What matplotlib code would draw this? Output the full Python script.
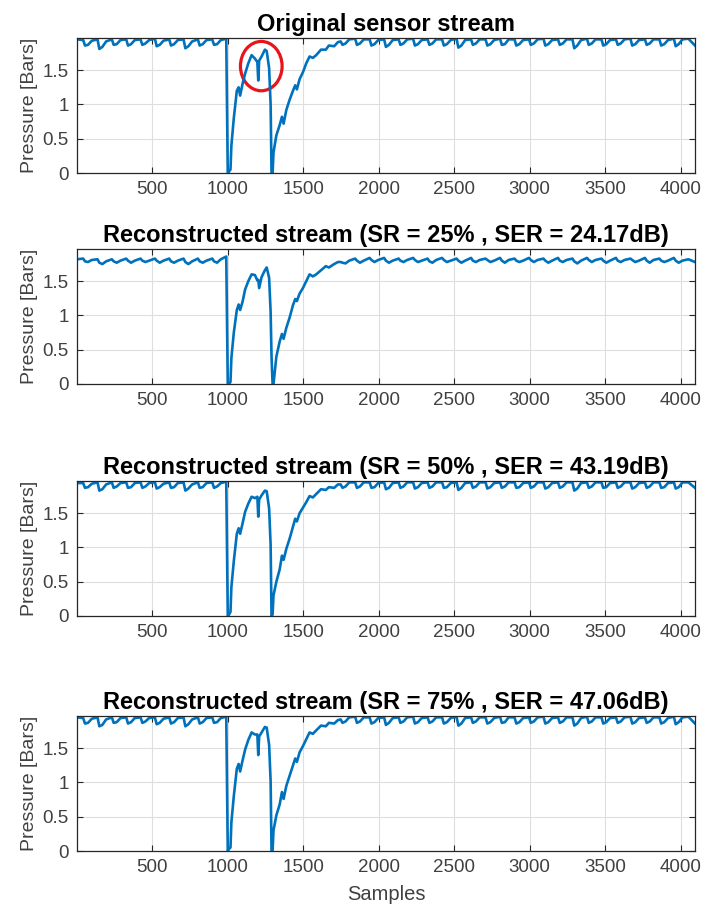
import matplotlib
matplotlib.use('Agg')
from matplotlib import pyplot as plt
from matplotlib.patches import Ellipse

plt.rcParams['font.family'] = ['Liberation Sans', 'DejaVu Sans']

# ---- sample positions (shared by all four streams) ----
# steady part before the pressure drop
pre_x = [1, 42, 54, 74, 99, 137, 149, 169, 194, 232, 244, 264, 289, 327, 339,
         359, 384, 422, 434, 454, 479, 517, 529, 549, 574, 612, 624, 644, 669,
         707, 719, 739, 764, 802, 814, 834, 859, 897, 909, 929, 954, 990]
# the two drops and the recovery
trans_x = [1000, 1008, 1018, 1024, 1040, 1060, 1072, 1082, 1098, 1115, 1136,
           1158, 1180, 1196, 1202, 1208, 1224, 1246, 1258, 1274, 1284, 1290,
           1297, 1303, 1322, 1344, 1359, 1370, 1388, 1410, 1432, 1447, 1458,
           1476, 1498, 1520, 1542, 1564, 1586, 1618, 1650, 1670, 1705, 1730]
# steady part after recovery
post_x = [1748, 1760, 1780, 1805, 1844, 1856, 1876, 1901, 1940, 1952, 1972, 1997,
          2036, 2048, 2068, 2093, 2132, 2144, 2164, 2189, 2228, 2240, 2260, 2285,
          2324, 2336, 2356, 2381, 2420, 2432, 2452, 2477, 2516, 2528, 2548, 2573,
          2612, 2624, 2644, 2669, 2708, 2720, 2740, 2765, 2804, 2816, 2836, 2861,
          2900, 2912, 2932, 2957, 2996, 3008, 3028, 3053, 3092, 3104, 3124, 3149,
          3188, 3200, 3220, 3245, 3284, 3296, 3316, 3341, 3380, 3392, 3412, 3437,
          3476, 3488, 3508, 3533, 3572, 3584, 3604, 3629, 3668, 3680, 3700, 3725,
          3764, 3776, 3796, 3821, 3860, 3872, 3892, 3917, 3956, 3968, 3988, 4013,
          4052, 4096]

# ---- pressure values [Bars] ----
orig_pre = [1.95, 1.94, 1.86, 1.87, 1.93, 1.95, 1.81, 1.84, 1.92, 1.95, 1.87,
            1.88, 1.94, 1.95, 1.86, 1.88, 1.94, 1.95, 1.87, 1.89, 1.94, 1.96,
            1.85, 1.87, 1.93, 1.95, 1.86, 1.88, 1.94, 1.95, 1.82, 1.85, 1.92,
            1.95, 1.86, 1.88, 1.94, 1.95, 1.87, 1.88, 1.94, 1.96]
orig_trans = [0.00, 0.02, 0.05, 0.40, 0.80, 1.20, 1.25, 1.13, 1.30, 1.45, 1.60,
              1.72, 1.67, 1.62, 1.35, 1.64, 1.70, 1.80, 1.78, 1.53, 1.00, 0.00,
              0.00, 0.30, 0.55, 0.70, 0.82, 0.72, 0.92, 1.07, 1.20, 1.28, 1.22,
              1.37, 1.47, 1.60, 1.70, 1.68, 1.72, 1.80, 1.80, 1.86, 1.85, 1.91]
orig_post = [1.92, 1.87, 1.89, 1.95, 1.96, 1.87, 1.89, 1.95, 1.95, 1.86, 1.88, 1.94,
             1.95, 1.84, 1.87, 1.94, 1.95, 1.87, 1.89, 1.95, 1.96, 1.86, 1.88, 1.94,
             1.95, 1.87, 1.89, 1.95, 1.95, 1.86, 1.88, 1.94, 1.96, 1.83, 1.86, 1.94,
             1.95, 1.87, 1.89, 1.95, 1.95, 1.86, 1.88, 1.94, 1.96, 1.87, 1.88, 1.95,
             1.95, 1.86, 1.88, 1.94, 1.95, 1.87, 1.89, 1.95, 1.96, 1.86, 1.88, 1.94,
             1.95, 1.87, 1.89, 1.95, 1.95, 1.82, 1.86, 1.94, 1.96, 1.87, 1.89, 1.95,
             1.95, 1.86, 1.88, 1.94, 1.95, 1.87, 1.89, 1.95, 1.96, 1.86, 1.88, 1.94,
             1.95, 1.87, 1.89, 1.95, 1.95, 1.86, 1.88, 1.94, 1.96, 1.85, 1.88, 1.95,
             1.96, 1.86]

sr25_pre = [1.82, 1.83, 1.79, 1.78, 1.81, 1.82, 1.77, 1.75, 1.79, 1.82, 1.79,
            1.77, 1.80, 1.83, 1.80, 1.77, 1.80, 1.83, 1.80, 1.78, 1.80, 1.83,
            1.80, 1.77, 1.80, 1.83, 1.79, 1.77, 1.80, 1.83, 1.78, 1.75, 1.79,
            1.83, 1.79, 1.77, 1.80, 1.83, 1.79, 1.77, 1.82, 1.86]
sr25_trans = [0.00, 0.00, 0.03, 0.38, 0.75, 1.08, 1.16, 1.08, 1.20, 1.38, 1.50,
              1.60, 1.59, 1.51, 1.52, 1.40, 1.56, 1.66, 1.70, 1.55, 1.05, 0.40,
              0.00, 0.00, 0.40, 0.62, 0.73, 0.66, 0.82, 0.97, 1.15, 1.24, 1.21,
              1.32, 1.40, 1.50, 1.60, 1.57, 1.60, 1.66, 1.72, 1.70, 1.75, 1.78]
sr25_post = [1.78, 1.77, 1.76, 1.80, 1.83, 1.80, 1.77, 1.80, 1.84, 1.81, 1.78, 1.81,
             1.84, 1.80, 1.77, 1.80, 1.83, 1.80, 1.78, 1.81, 1.84, 1.81, 1.78, 1.80,
             1.83, 1.79, 1.77, 1.81, 1.84, 1.81, 1.78, 1.80, 1.83, 1.80, 1.77, 1.80,
             1.84, 1.80, 1.78, 1.81, 1.83, 1.81, 1.78, 1.80, 1.84, 1.80, 1.77, 1.81,
             1.83, 1.80, 1.78, 1.80, 1.84, 1.81, 1.78, 1.81, 1.83, 1.80, 1.77, 1.80,
             1.84, 1.80, 1.78, 1.81, 1.83, 1.79, 1.76, 1.80, 1.84, 1.81, 1.78, 1.81,
             1.83, 1.80, 1.77, 1.80, 1.84, 1.80, 1.78, 1.81, 1.83, 1.81, 1.78, 1.80,
             1.84, 1.80, 1.77, 1.81, 1.83, 1.80, 1.78, 1.80, 1.84, 1.80, 1.77, 1.80,
             1.82, 1.78]

sr50_pre = [1.94, 1.94, 1.87, 1.88, 1.93, 1.95, 1.83, 1.85, 1.92, 1.95, 1.87,
            1.89, 1.94, 1.95, 1.87, 1.88, 1.94, 1.95, 1.87, 1.89, 1.94, 1.95,
            1.86, 1.88, 1.93, 1.95, 1.87, 1.88, 1.94, 1.95, 1.83, 1.86, 1.92,
            1.95, 1.87, 1.88, 1.94, 1.95, 1.87, 1.89, 1.94, 1.96]
sr50_trans = [0.00, 0.02, 0.06, 0.42, 0.80, 1.20, 1.28, 1.20, 1.35, 1.52, 1.64,
              1.74, 1.72, 1.74, 1.45, 1.70, 1.76, 1.83, 1.82, 1.57, 1.04, 0.00,
              0.02, 0.30, 0.50, 0.68, 0.88, 0.82, 0.98, 1.13, 1.30, 1.42, 1.38,
              1.50, 1.58, 1.66, 1.75, 1.73, 1.78, 1.85, 1.84, 1.88, 1.87, 1.92]
sr50_post = [1.92, 1.87, 1.89, 1.95, 1.95, 1.87, 1.89, 1.95, 1.95, 1.87, 1.88, 1.94,
             1.95, 1.85, 1.87, 1.94, 1.95, 1.87, 1.89, 1.95, 1.95, 1.86, 1.88, 1.94,
             1.95, 1.87, 1.89, 1.95, 1.95, 1.87, 1.88, 1.94, 1.95, 1.84, 1.87, 1.94,
             1.95, 1.87, 1.89, 1.95, 1.95, 1.86, 1.88, 1.94, 1.95, 1.87, 1.89, 1.95,
             1.95, 1.87, 1.88, 1.94, 1.95, 1.87, 1.89, 1.95, 1.95, 1.86, 1.88, 1.94,
             1.95, 1.87, 1.89, 1.95, 1.95, 1.83, 1.86, 1.94, 1.95, 1.87, 1.89, 1.95,
             1.95, 1.87, 1.88, 1.94, 1.95, 1.87, 1.89, 1.95, 1.95, 1.86, 1.88, 1.94,
             1.95, 1.87, 1.89, 1.95, 1.95, 1.87, 1.88, 1.94, 1.95, 1.86, 1.88, 1.95,
             1.95, 1.87]

sr75_pre = [1.95, 1.94, 1.86, 1.87, 1.93, 1.95, 1.82, 1.84, 1.92, 1.95, 1.87,
            1.88, 1.94, 1.95, 1.86, 1.88, 1.94, 1.95, 1.87, 1.89, 1.94, 1.95,
            1.85, 1.87, 1.93, 1.95, 1.86, 1.88, 1.94, 1.95, 1.82, 1.85, 1.92,
            1.95, 1.86, 1.88, 1.94, 1.95, 1.87, 1.88, 1.94, 1.96]
sr75_trans = [0.00, 0.03, 0.05, 0.42, 0.80, 1.20, 1.27, 1.16, 1.32, 1.48, 1.62,
              1.73, 1.70, 1.70, 1.40, 1.67, 1.73, 1.81, 1.80, 1.55, 1.02, 0.00,
              0.01, 0.30, 0.52, 0.68, 0.86, 0.76, 0.95, 1.10, 1.25, 1.35, 1.30,
              1.44, 1.53, 1.63, 1.73, 1.71, 1.76, 1.83, 1.82, 1.87, 1.86, 1.91]
sr75_post = [1.92, 1.87, 1.89, 1.95, 1.96, 1.87, 1.89, 1.95, 1.95, 1.86, 1.88, 1.94,
             1.95, 1.84, 1.87, 1.94, 1.95, 1.87, 1.89, 1.95, 1.96, 1.86, 1.88, 1.94,
             1.95, 1.87, 1.89, 1.95, 1.95, 1.86, 1.88, 1.94, 1.96, 1.83, 1.86, 1.94,
             1.95, 1.87, 1.89, 1.95, 1.95, 1.86, 1.88, 1.94, 1.96, 1.87, 1.88, 1.95,
             1.95, 1.86, 1.88, 1.94, 1.95, 1.87, 1.89, 1.95, 1.96, 1.86, 1.88, 1.94,
             1.95, 1.87, 1.89, 1.95, 1.95, 1.83, 1.86, 1.94, 1.96, 1.87, 1.89, 1.95,
             1.95, 1.86, 1.88, 1.94, 1.95, 1.87, 1.89, 1.95, 1.96, 1.86, 1.88, 1.94,
             1.95, 1.87, 1.89, 1.95, 1.95, 1.86, 1.88, 1.94, 1.96, 1.85, 1.88, 1.95,
             1.96, 1.86]

titles = ["Original sensor stream",
          "Reconstructed stream (SR = 25% , SER = 24.17dB)",
          "Reconstructed stream (SR = 50% , SER = 43.19dB)",
          "Reconstructed stream (SR = 75% , SER = 47.06dB)"]

x_ticks = [500, 1000, 1500, 2000, 2500, 3000, 3500, 4000]
y_ticks = [0, 0.5, 1, 1.5]
y_tick_labels = ["0", "0.5", "1", "1.5"]

samples = pre_x + trans_x + post_x
streams = [orig_pre + orig_trans + orig_post,
           sr25_pre + sr25_trans + sr25_post,
           sr50_pre + sr50_trans + sr50_post,
           sr75_pre + sr75_trans + sr75_post]

W, H = 705, 906
fig = plt.figure(figsize=(W / 100, H / 100), dpi=100)

# axes boxes in pixels: (top, bottom)
ax_rows = [(38, 173), (249, 384), (481, 616), (716, 851)]
left_px, right_px = 77, 695

axes = []
for (top, bot), title, vals in zip(ax_rows, titles, streams):
    ax = fig.add_axes([left_px / W, 1 - bot / H, (right_px - left_px) / W, (bot - top) / H])
    ax.plot(samples, vals, color='#0072BD', lw=1.9, solid_joinstyle='round')
    ax.set_xlim(1, 4096)
    ax.set_ylim(0, 1.97)
    ax.set_xticks(x_ticks)
    ax.set_yticks(y_ticks)
    ax.set_yticklabels(y_tick_labels)
    ax.grid(True, color='#dedede', lw=0.8)
    ax.set_axisbelow(True)
    ax.tick_params(direction='in', top=True, right=True, length=4, width=0.8,
                   colors='#262626', labelcolor='#404040', labelsize=13.5, pad=6)
    for sp in ax.spines.values():
        sp.set_color('#262626')
        sp.set_linewidth(0.9)
    ax.set_title(title, fontsize=17, fontweight='bold', color='black', pad=5)
    ax.set_ylabel("Pressure [Bars]", fontsize=14, color='#404040', labelpad=3)
    axes.append(ax)

axes[-1].set_xlabel("Samples", fontsize=14.5, color='#404040', labelpad=6)

# highlight the spike in the original stream
axes[0].add_patch(Ellipse((1222, 1.56), 276, 0.72, fill=False,
                          edgecolor='#e8141b', lw=2.3, clip_on=False))

fig.savefig('out.png', dpi=100, facecolor='white')
